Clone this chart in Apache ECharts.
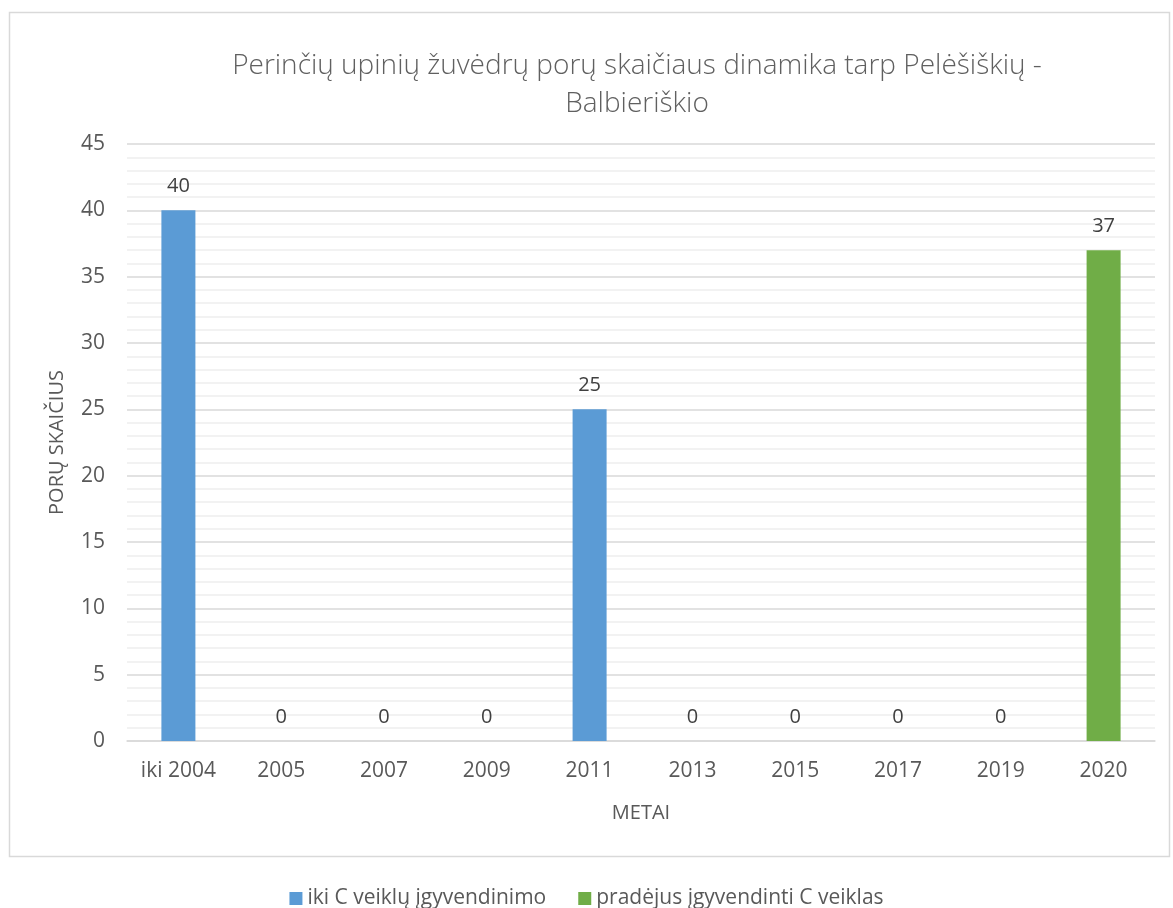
<!DOCTYPE html>
<html>
<head>
<meta charset="utf-8">
<script src="https://cdn.jsdelivr.net/npm/echarts@6/dist/echarts.min.js"></script>
<style>
  html, body { margin: 0; padding: 0; background: #fff; }
  #main { width: 1173px; height: 908px; }
</style>
</head>
<body>
<div id="main"></div>
<script>
// duomenys
var metai = ['iki 2004', '2005', '2007', '2009', '2011', '2013', '2015', '2017', '2019', '2020'];
var ikiC = [40, 0, 0, 0, 25, 0, 0, 0, 0, '-'];
var pradejus = ['-', '-', '-', '-', '-', '-', '-', '-', '-', 37];
var yTicks = [0, 5, 10, 15, 20, 25, 30, 35, 40, 45];

var txt = '#595959';
var font = '"Open Sans", "DejaVu Sans", sans-serif';

var myChart = echarts.init(document.getElementById('main'));

var option = {
    backgroundColor: '#fff',
    textStyle: { fontFamily: font },
    graphic: [{
        type: 'rect',
        shape: { x: 9.5, y: 12.5, width: 1160, height: 844 },
        style: { fill: 'none', stroke: '#d9d9d9', lineWidth: 1.5 },
        z: -1
    }],
    title: {
        text: 'Perinčių upinių žuvėdrų porų skaičiaus dinamika tarp Pelėšiškių -\nBalbieriškio',
        left: 632,
        textAlign: 'center',
        top: 42,
        textStyle: {
            fontFamily: font,
            fontWeight: 300,
            fontSize: 28,
            lineHeight: 38,
            color: '#606060'
        }
    },
    legend: {
        bottom: -6,
        left: 'center',
        itemWidth: 13,
        itemHeight: 13,
        itemGap: 32,
        icon: 'rect',
        textStyle: { color: txt, fontSize: 21, fontFamily: font },
        data: ['iki C veiklų įgyvendinimo', 'pradėjus įgyvendinti C veiklas']
    },
    grid: { left: 127, right: 18, top: 144, bottom: 167 },
    xAxis: {
        type: 'category',
        data: metai,
        name: 'METAI',
        nameLocation: 'middle',
        nameGap: 62,
        nameTextStyle: { color: txt, fontSize: 20 },
        axisLine: { lineStyle: { color: '#d9d9d9', width: 1.5 } },
        axisTick: { show: false },
        axisLabel: { color: txt, fontSize: 21, margin: 20 }
    },
    yAxis: {
        type: 'value',
        min: yTicks[0],
        max: yTicks[yTicks.length - 1],
        interval: 5,
        name: 'PORŲ SKAIČIUS',
        nameLocation: 'middle',
        nameGap: 60,
        nameTextStyle: { color: txt, fontSize: 20 },
        axisLine: { show: false },
        axisTick: { show: false },
        axisLabel: { color: txt, fontSize: 21, margin: 22 },
        splitLine: { lineStyle: { color: '#d9d9d9', width: 1.5 } },
        minorTick: { show: false, splitNumber: 5 },
        minorSplitLine: { show: true, lineStyle: { color: '#eeeeee', width: 1.5 } }
    },
    series: [{
        name: 'iki C veiklų įgyvendinimo',
        type: 'bar',
        data: ikiC,
        barWidth: 34,
        barGap: '-100%',
        itemStyle: { color: '#5B9BD5' },
        label: { show: true, position: 'top', distance: 14, color: '#404040', fontSize: 20 }
    }, {
        name: 'pradėjus įgyvendinti C veiklas',
        type: 'bar',
        data: pradejus,
        barWidth: 34,
        itemStyle: { color: '#70AD47' },
        label: { show: true, position: 'top', distance: 14, color: '#404040', fontSize: 20 }
    }]
};

myChart.setOption(option);
</script>
</body>
</html>
